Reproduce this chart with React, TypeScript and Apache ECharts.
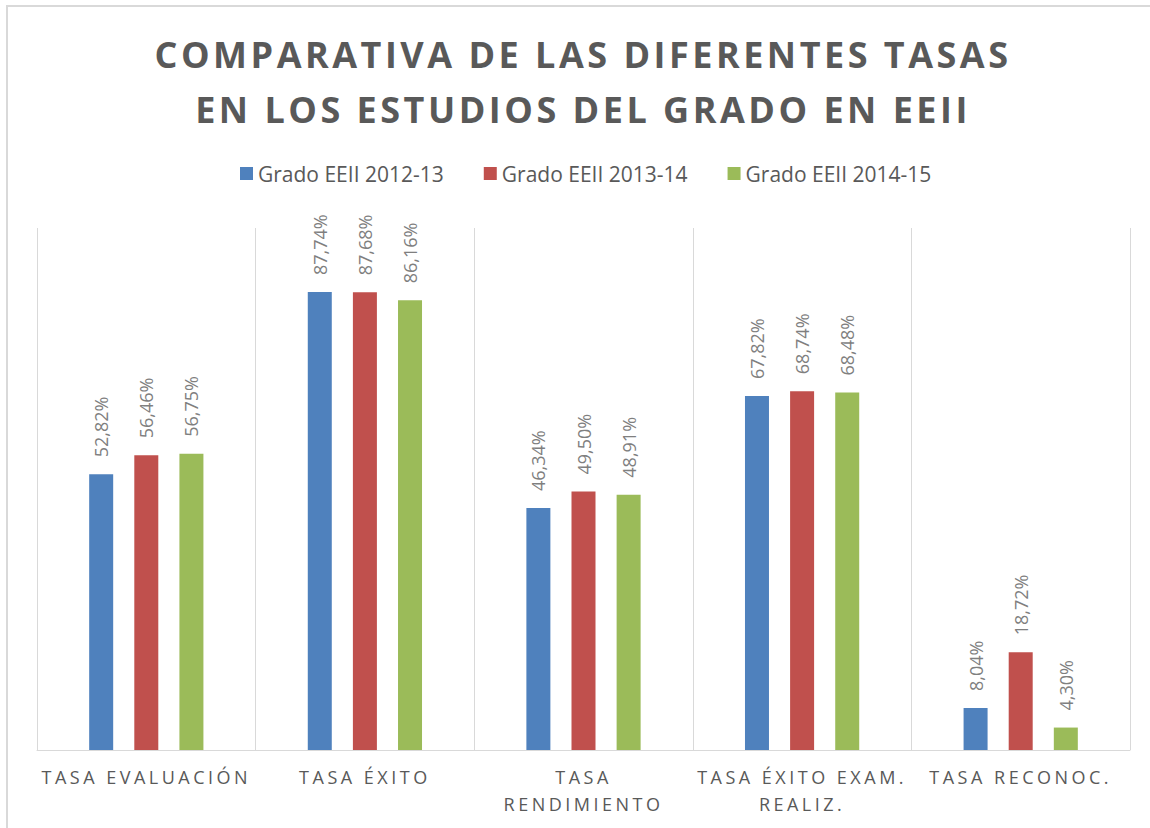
import React, { useEffect, useRef } from "react";
import * as echarts from "echarts";

const categories = [
  "TASA EVALUACIÓN",
  "TASA ÉXITO",
  "TASA\nRENDIMIENTO",
  "TASA ÉXITO EXAM.\nREALIZ.",
  "TASA RECONOC.",
];
const seriesNames = ["Grado EEII 2012-13", "Grado EEII 2013-14", "Grado EEII 2014-15"];
const values2012 = [52.82, 87.74, 46.34, 67.82, 8.04];
const values2013 = [56.46, 87.68, 49.5, 68.74, 18.72];
const values2014 = [56.75, 86.16, 48.91, 68.48, 4.3];
const colors = ["#4f81bd", "#c0504d", "#9bbb59"];
const titleText = "COMPARATIVA DE LAS DIFERENTES TASAS\nEN LOS ESTUDIOS DEL GRADO EN EEII";

const SPACED = "Open Sans, DejaVu Sans";
const PLAIN = "Open Sans";

export default function App() {
  const ref = useRef<HTMLDivElement>(null);
  useEffect(() => {
    if (!ref.current) return;
    const chart = echarts.init(ref.current, undefined, { renderer: "svg" });
    const allValues = [values2012, values2013, values2014];
    const fmt = (p: any) => Number(p.value).toFixed(2).replace(".", ",") + "%";
    chart.setOption({
      animation: false,
      backgroundColor: "#ffffff",
      title: {
        text: titleText,
        left: 583,
        top: 27,
        padding: 0,
        textAlign: "center",
        textStyle: {
          fontFamily: SPACED,
          fontSize: 36,
          fontWeight: "bold",
          color: "#595959",
          lineHeight: 55,
        },
      },
      legend: {
        data: seriesNames,
        left: 240,
        top: 163,
        padding: 0,
        icon: "rect",
        itemWidth: 13,
        itemHeight: 13,
        itemGap: 40,
        textStyle: { fontFamily: PLAIN, fontSize: 21, color: "#595959" },
      },
      grid: { left: 37, right: 20, top: 228, bottom: 78, containLabel: false },
      xAxis: {
        type: "category",
        data: categories,
        axisLine: { lineStyle: { color: "#d9d9d9", width: 1 } },
        axisTick: { show: false },
        splitLine: { show: true, lineStyle: { color: "#d9d9d9", width: 1 } },
        axisLabel: {
          interval: 0,
          margin: 13,
          color: "#595959",
          fontFamily: SPACED,
          fontSize: 18,
          lineHeight: 27,
        },
      },
      yAxis: {
        type: "value",
        min: 0,
        max: 100,
        show: false,
        splitLine: { show: false },
      },
      graphic: [
        {
          type: "rect",
          z: -10,
          shape: { x: 7, y: 6, width: 1160, height: 840 },
          style: { fill: "none", stroke: "#d9d9d9", lineWidth: 2 },
        },
      ],
      series: seriesNames.map((name, i) => ({
        name,
        type: "bar",
        data: allValues[i],
        barWidth: 24,
        barGap: "88%",
        itemStyle: { color: colors[i] },
        label: {
          show: true,
          position: "top",
          rotate: 90,
          align: "left",
          verticalAlign: "middle",
          distance: 17,
          color: "#7f7f7f",
          fontFamily: PLAIN,
          fontSize: 18,
          formatter: fmt,
        },
      })),
    });
    return () => chart.dispose();
  }, []);
  return (
    <>
      <style>{`text[style*="DejaVu"]{letter-spacing:3.5px}`}</style>
      <div
        ref={ref}
        style={{ position: "absolute", left: 0, top: 0, width: 1150, height: 828 }}
      />
    </>
  );
}
